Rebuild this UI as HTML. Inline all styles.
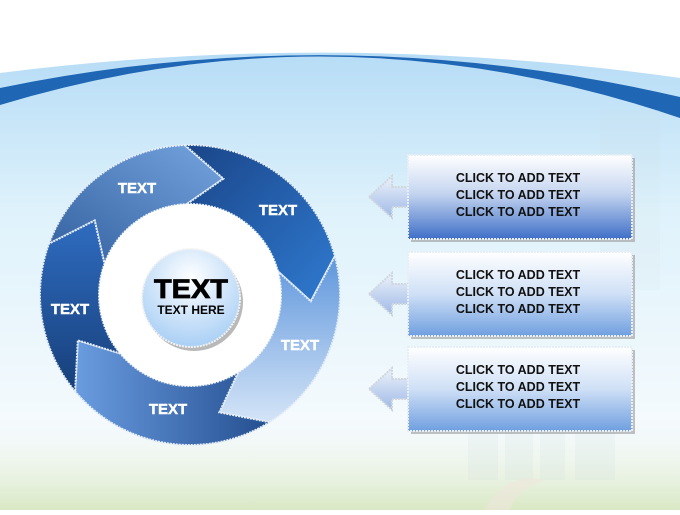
<!DOCTYPE html>
<html><head><meta charset="utf-8"><style>
body{margin:0;width:680px;height:510px;overflow:hidden;font-family:"Liberation Sans",sans-serif;}
</style></head><body>
<svg width="680" height="510" viewBox="0 0 680 510" xmlns="http://www.w3.org/2000/svg">
<defs>
<linearGradient id="sky" x1="0" y1="0" x2="0" y2="1">
<stop offset="0" stop-color="#b6dcf6"/><stop offset="0.35" stop-color="#dff2fb"/><stop offset="0.8" stop-color="#f4fafd"/><stop offset="1" stop-color="#eef5ee"/></linearGradient>
<linearGradient id="grass" x1="0" y1="0" x2="0" y2="1"><stop offset="0" stop-color="#f3f8ef" stop-opacity="0"/><stop offset="1" stop-color="#d9e8c4"/></linearGradient>
<linearGradient id="box" x1="0" y1="0" x2="0" y2="1"><stop offset="0" stop-color="#ffffff"/><stop offset="0.45" stop-color="#c6d6f0"/><stop offset="1" stop-color="#3f6fc8"/></linearGradient>
<linearGradient id="box2" x1="0" y1="0" x2="0" y2="1"><stop offset="0" stop-color="#ffffff"/><stop offset="0.5" stop-color="#cfe0f6"/><stop offset="1" stop-color="#6f9fe0"/></linearGradient>
<linearGradient id="arr" x1="0" y1="0" x2="0" y2="1"><stop offset="0" stop-color="#eef3fb"/><stop offset="1" stop-color="#9db8e6"/></linearGradient>
<linearGradient id="g1" x1="0" y1="1" x2="1" y2="0"><stop offset="0" stop-color="#33609e"/><stop offset="1" stop-color="#74a4e0"/></linearGradient>
<linearGradient id="g2" x1="0" y1="0" x2="1" y2="1"><stop offset="0" stop-color="#1a4588"/><stop offset="1" stop-color="#2f7ad0"/></linearGradient>
<linearGradient id="g3" x1="0" y1="0" x2="0" y2="1"><stop offset="0" stop-color="#5f96dc"/><stop offset="1" stop-color="#d4e4f7"/></linearGradient>
<linearGradient id="g4" x1="0" y1="0" x2="1" y2="0"><stop offset="0" stop-color="#6a9ce0"/><stop offset="1" stop-color="#244f90"/></linearGradient>
<linearGradient id="g5" x1="0" y1="0" x2="0" y2="1"><stop offset="0" stop-color="#2f6cc0"/><stop offset="1" stop-color="#173f7a"/></linearGradient>
<radialGradient id="cd" cx="0.5" cy="0.3" r="0.7"><stop offset="0" stop-color="#ffffff"/><stop offset="1" stop-color="#a9cff5"/></radialGradient>
</defs>
<rect width="680" height="510" fill="#fff"/>
<path d="M0,73 Q340,30 680,78 L680,510 L0,510 Z" fill="url(#sky)"/>
<path d="M0,88 Q340,18 680,97 L680,118 Q340,2 0,105 Z" fill="#1f66b4"/>
<rect x="0" y="430" width="680" height="80" fill="url(#grass)"/>
<g opacity="0.15" fill="#c9d3dc">
<rect x="468" y="425" width="30" height="55"/><rect x="505" y="410" width="28" height="70"/><rect x="540" y="400" width="25" height="80"/><rect x="575" y="420" width="40" height="60"/><rect x="600" y="110" width="60" height="180" opacity="0.5"/>
</g>
<path d="M485,510 Q500,480 530,478 L545,480 Q515,490 510,510 Z" fill="#efe6dc" opacity="0.6"/>
<g id="ring"></g>
<circle cx="190" cy="295" r="91" fill="#fff"/>
<circle cx="194" cy="302" r="49" fill="#8a8a8a" opacity="0.6"/>
<circle cx="191" cy="298" r="49" fill="url(#cd)" stroke="#f2f2f2" stroke-width="2" stroke-dasharray="2 1"/>
<text x="191" y="298" text-anchor="middle" font-size="27" font-weight="900" fill="#000" stroke="#000" stroke-width="0.8" textLength="74" lengthAdjust="spacingAndGlyphs">TEXT</text>
<text x="191" y="314" text-anchor="middle" font-size="12" font-weight="bold" fill="#000">TEXT HERE</text>
<g font-size="15" font-weight="bold" fill="#fff" text-anchor="middle" stroke="#fff" stroke-width="0.4">
<text x="137" y="193">TEXT</text><text x="278" y="215">TEXT</text><text x="300" y="350">TEXT</text><text x="168" y="414">TEXT</text><text x="70" y="314">TEXT</text>
</g>
<g id="boxes"></g>
</svg>
<script>
var cx=190,cy=295,Ro=150,Ri=91,Rm=121,d=18;
function p(r,a){a=a*Math.PI/180;return (cx+r*Math.cos(a)).toFixed(1)+","+(cy+r*Math.sin(a)).toFixed(1);}
var segs=[[-160,-92,"g1"],[-92,-15,"g2"],[-15,58,"g3"],[58,140,"g4"],[140,200,"g5"]];
var h="";
segs.forEach(function(s){var a1=s[0],a2=s[1];
h+='<path d="M'+p(Ro,a1)+' A'+Ro+','+Ro+' 0 0 1 '+p(Ro,a2)+' L'+p(Rm,a2+d)+' L'+p(Ri,a2)+' A'+Ri+','+Ri+' 0 0 0 '+p(Ri,a1)+' L'+p(Rm,a1+d)+' Z" fill="url(#'+s[2]+')" stroke="#e6eef8" stroke-width="2" stroke-dasharray="2 1"/>';});
document.getElementById("ring").innerHTML=h;
var b="",ys=[155,252,347],fills=["box","box2","box2"];
ys.forEach(function(y,i){var c=y+42;
b+='<rect x="411" y="'+(y+3)+'" width="224" height="84" fill="#9a9a9a" opacity="0.6"/>';
b+='<path d="M369,'+c+' L392,'+(c-21)+' L392,'+(c-10)+' L410,'+(c-10)+' L410,'+(c+10)+' L392,'+(c+10)+' L392,'+(c+21)+' Z" fill="url(#arr)" stroke="#d0d6de" stroke-width="2" stroke-dasharray="2 1"/>';
b+='<rect x="408" y="'+y+'" width="224" height="84" fill="url(#'+fills[i]+')" stroke="#e8eef6" stroke-width="2" stroke-dasharray="2 1"/>';
for(var k=0;k<3;k++)b+='<text x="518" y="'+(y+27+k*17)+'" text-anchor="middle" font-size="12.5" font-weight="bold" fill="#111">CLICK TO ADD TEXT</text>';});
document.getElementById("boxes").innerHTML=b;
</script>
</body></html>
